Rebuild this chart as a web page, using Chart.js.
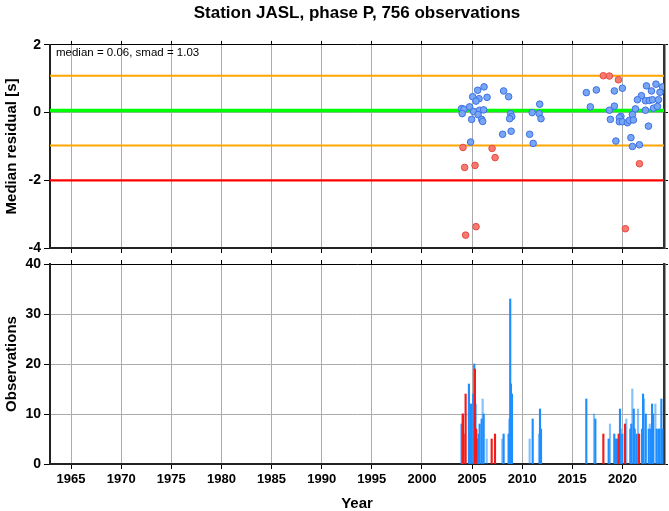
<!DOCTYPE html>
<html><head><meta charset="utf-8">
<script src="https://cdn.jsdelivr.net/npm/chart.js@4.4.1/dist/chart.umd.min.js"></script>
<style>
html,body{margin:0;padding:0;background:#fff;width:669px;height:511px;overflow:hidden}
canvas{position:absolute;left:0}
</style>
</head><body>
<canvas id="topChart" width="669" height="262" style="top:0px"></canvas>
<canvas id="botChart" width="669" height="261" style="top:250px"></canvas>
<script>
// ---------- data ----------
const titleText = 'Station JASL, phase P, 756 observations';
const medianVal = 0.06;
const smadVal = 1.03;
const limitVal = -2;
const yearMin = 1962.9;
const yearMax = 2024.15;

// residuals (blue = accepted, red = outliers)
const blueYears = [2006.2, 2005.56, 2005.06, 2005.7, 2006.5, 2005.4, 2008.15, 2008.65, 2011.75, 2003.96,
  2004.2, 2004.76, 2005.16, 2005.76, 2006.16, 2004.02, 2005.6, 2004.96, 2005.96, 2006.06,
  2008.85, 2008.96, 2008.75, 2011.0, 2011.7, 2011.88, 2008.9, 2008.05, 2010.75, 2011.1, 2004.86,
  2016.4, 2017.4, 2019.2, 2020.0, 2022.4, 2023.35, 2024.0, 2022.9, 2023.75, 2021.9,
  2021.5, 2022.3, 2022.7, 2023.0, 2023.6, 2016.8, 2019.2, 2018.7, 2021.3, 2022.3,
  2023.1, 2023.5, 2019.85, 2019.7, 2021.0, 2018.8, 2019.7, 2020.0, 2020.5, 2020.7,
  2021.1, 2022.6, 2019.35, 2020.85, 2021.0, 2021.7];
const blueResid = [0.76, 0.66, 0.47, 0.41, 0.45, 0.34, 0.64, 0.47, 0.25, 0.12,
  0.10, 0.17, 0.03, 0.07, 0.08, -0.03, -0.06, -0.20, -0.20, -0.26,
  -0.03, -0.12, -0.18, 0.0, -0.03, -0.18, -0.55, -0.64, -0.64, -0.91, -0.87,
  0.59, 0.67, 0.64, 0.72, 0.79, 0.84, 0.76, 0.64, 0.60, 0.50,
  0.38, 0.35, 0.36, 0.38, 0.38, 0.17, 0.19, 0.07, 0.11, 0.07,
  0.13, 0.18, -0.11, -0.15, -0.06, -0.20, -0.27, -0.27, -0.30, -0.23,
  -0.22, -0.40, -0.84, -0.74, -1.0, -0.95];
const redYears = [2004.1, 2007.0, 2007.3, 2004.26, 2005.3, 2005.4, 2004.36, 2018.1, 2018.7, 2019.6, 2021.7, 2020.3];
const redResid = [-1.03, -1.06, -1.33, -1.62, -1.56, -3.37, -3.62, 1.09, 1.08, 0.97, -1.51, -3.43];

// observation counts
const obsYears = [2003.96, 2004.06, 2004.69, 2004.89, 2005.12, 2005.22, 2005.56, 2005.66, 2005.76, 2005.96,
  2006.16, 2008.15, 2008.65, 2008.75, 2008.81, 2008.88, 2008.98, 2011.05, 2011.78, 2011.88,
  2016.4, 2017.3, 2018.63, 2019.19, 2019.33, 2019.46, 2019.76, 2019.99, 2020.79, 2020.89,
  2021.13, 2021.23, 2021.43, 2021.96, 2022.06, 2022.33, 2022.63, 2022.86, 2022.96, 2023.06,
  2023.43, 2023.66, 2023.89, 2023.99];
const obsCounts = [8, 10, 16, 12, 14, 20, 5, 6, 8, 9,
  10, 6, 6, 9, 33, 16, 14, 9, 11, 7,
  13, 9, 5, 6, 5, 5, 11, 6, 7, 8,
  11, 7, 6, 7, 14, 10, 7, 7, 12, 10,
  7, 7, 13, 7];
const lightYears = [2004.79, 2005.39, 2006.06, 2006.46, 2008.02, 2010.75, 2011.68,
  2017.17, 2018.76, 2019.86, 2020.39, 2020.99, 2021.56, 2022.16, 2022.73, 2023.29, 2023.76];
const lightCounts = [12, 12, 13, 5, 5, 5, 6,
  10, 8, 7, 9, 15, 11, 13, 8, 12, 7];
const redObsYears = [2004.1, 2004.16, 2004.36, 2005.29, 2005.42, 2006.96, 2007.29,
  2018.1, 2019.63, 2020.26, 2021.66];
const redObsCounts = [10, 6, 14, 19, 7, 5, 6,
  6, 6, 8, 6];

// ---------- style ----------
const FONT = "'Liberation Sans', Arial, Helvetica, sans-serif";
const GRID = '#ababab';
const AXIS = '#222';

const refLines = {
  id: 'refLines',
  beforeDatasetsDraw(chart) {
    const {ctx, chartArea: a, scales: {y}} = chart;
    const lines = [
      [medianVal + smadVal, '#FFA500', 2],
      [medianVal - smadVal, '#FFA500', 2],
      [limitVal, '#FF0000', 2.2],
      [medianVal, '#00FF00', 3.5]
    ];
    ctx.save();
    ctx.beginPath(); ctx.rect(a.left, a.top, a.width, a.height); ctx.clip();
    for (const [v, c, w] of lines) {
      const py = y.getPixelForValue(v);
      ctx.strokeStyle = c; ctx.lineWidth = w;
      ctx.beginPath(); ctx.moveTo(a.left, py); ctx.lineTo(a.right, py); ctx.stroke();
    }
    ctx.restore();
  },
  afterDraw(chart) {
    const {ctx, chartArea: a} = chart;
    ctx.save();
    ctx.font = "11.5px " + FONT;
    ctx.fillStyle = '#000';
    ctx.textBaseline = 'middle';
    ctx.fillText('median = ' + medianVal.toFixed(2) + ', smad = ' + smadVal.toFixed(2), a.left + 6, a.top + 8);
    ctx.restore();
  }
};

function xAxis(showLabels, h) {
  return {
    type: 'linear', position: 'bottom', min: yearMin, max: yearMax, offset: false,
    ticks: {display: showLabels, stepSize: 5, includeBounds: false, autoSkip: false, maxRotation: 0,
      color: '#000', padding: 3, font: {family: FONT, size: 13, weight: 'bold'}, callback: v => String(v)},
    grid: {color: GRID, lineWidth: 1, tickLength: 5, tickColor: '#000', offset: false},
    border: {color: AXIS, width: 2},
    afterFit(s) { s.height = h; }
  };
}
function xTop() {
  return {
    type: 'linear', position: 'top', min: yearMin, max: yearMax, offset: false,
    ticks: {display: false, stepSize: 5, includeBounds: false},
    grid: {drawOnChartArea: false, tickLength: 4, tickColor: '#000', offset: false},
    border: {color: '#000', width: 1},
    afterFit(s) { s.height = 4; }
  };
}
function yRight(min, max, step) {
  return {
    type: 'linear', position: 'right', min, max,
    ticks: {display: false, stepSize: step},
    grid: {drawOnChartArea: false, tickLength: 4, tickColor: '#000'},
    border: {color: '#333', width: 2.5},
    afterFit(s) { s.width = 5; }
  };
}
function yLeft(min, max, step, title) {
  return {
    type: 'linear', position: 'left', min, max,
    ticks: {stepSize: step, color: '#000', padding: 3, font: {family: FONT, size: 14, weight: 'bold'}, callback: v => String(v)},
    grid: {color: GRID, lineWidth: 1, tickLength: 6, tickColor: '#000'},
    border: {color: AXIS, width: 2},
    title: {display: true, text: title, color: '#000', padding: {top: 3, bottom: 0}, font: {family: FONT, size: 15, weight: 'bold'}},
    afterFit(s) { s.width = 50; }
  };
}

Chart.defaults.font.family = FONT;

new Chart(document.getElementById('topChart'), {
  type: 'scatter',
  data: {datasets: [
    {data: blueYears.map((x, i) => ({x, y: blueResid[i]})), backgroundColor: '#78A6F4', borderColor: '#3C70E4',
      borderWidth: 1, pointRadius: 3.3},
    {data: redYears.map((x, i) => ({x, y: redResid[i]})), backgroundColor: '#F57B72', borderColor: '#E64A40',
      borderWidth: 1, pointRadius: 3.3}
  ]},
  options: {
    responsive: false, animation: false, events: [],
    layout: {padding: {top: 0, left: 0, right: 0, bottom: 0}},
    plugins: {
      legend: {display: false}, tooltip: {enabled: false},
      title: {display: true, text: titleText, fullSize: false, color: '#000',
        font: {family: FONT, size: 17, weight: 'bold'}, padding: {top: 3, bottom: 17.5}}
    },
    scales: {
      x: xAxis(false, 14),
      x2: xTop(),
      y: yLeft(-4, 2, 2, 'Median residual [s]'),
      y2: yRight(-4, 2, 2)
    }
  },
  plugins: [refLines]
});

const barData = [];
const barColors = [];
obsYears.forEach((x, i) => { barData.push({x, y: obsCounts[i]}); barColors.push('#1E8EFF'); });
lightYears.forEach((x, i) => { barData.push({x, y: lightCounts[i]}); barColors.push('rgba(30,142,255,0.55)'); });
redObsYears.forEach((x, i) => { barData.push({x, y: redObsCounts[i]}); barColors.push('#F21C1C'); });

new Chart(document.getElementById('botChart'), {
  type: 'bar',
  data: {datasets: [
    {data: barData, backgroundColor: barColors, borderWidth: 0, barThickness: 1.5}
  ]},
  options: {
    responsive: false, animation: false, events: [],
    layout: {padding: {top: 10, left: 0, right: 0, bottom: 0}},
    plugins: {legend: {display: false}, tooltip: {enabled: false}},
    scales: {
      x: Object.assign(xAxis(true, 47), {
        title: {display: true, text: 'Year', color: '#000', padding: {top: 0, bottom: -2},
          font: {family: FONT, size: 15, weight: 'bold'}}
      }),
      x2: xTop(),
      y: yLeft(0, 40, 10, 'Observations'),
      y2: yRight(0, 40, 10)
    }
  }
});
</script>
</body></html>
